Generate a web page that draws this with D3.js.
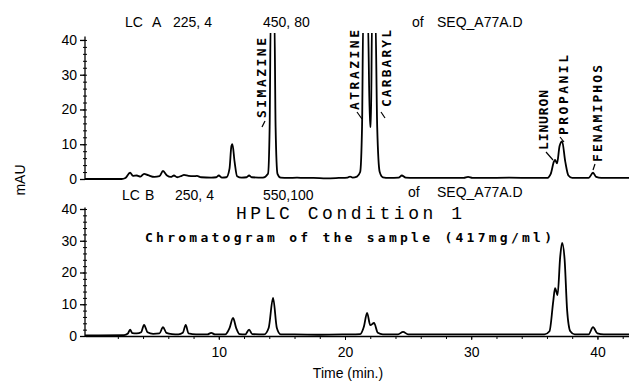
<!DOCTYPE html>
<html>
<head>
<meta charset="utf-8">
<script src="https://cdn.jsdelivr.net/npm/d3@7"></script>
<style>
  body { margin: 0; background: #fff; }
  svg { display: block; font-family: "Liberation Sans", Arial, sans-serif; }
</style>
</head>
<body>
<div id="caja"></div>
<script>
// signal LC A (225,4) : [time min, mAU]
var traceA = [
  [-0.6,0],[2.3,0],[2.6,0.3],[2.97,1.8],[3.2,0.9],[3.5,1.0],[3.8,0.7],[4.08,1.5],[4.4,1.1],[4.9,0.6],
  [5.3,0.8],[5.58,2.3],[5.9,1.0],[6.2,0.6],[6.45,1.0],[6.7,0.5],[7.05,0.9],[7.24,1.2],[7.6,0.9],[8.0,0.8],
  [8.27,0.9],[8.6,0.5],[9.4,0.4],[9.8,0.5],[10.0,1.0],[10.25,0.4],[10.6,0.5],[10.85,3],[11.0,9.5],[11.08,10],
  [11.25,5],[11.45,0.8],[11.8,0.4],[12.2,0.5],[12.4,1.0],[12.6,0.5],[13.5,0.4],[13.9,1.5],[14.03,15],[14.12,48],
  [14.4,48],[14.5,15],[14.65,1.5],[14.9,0.4],[15.5,0.3],[16.2,0.4],[16.8,0.3],[17.5,0.3],[18.5,0.2],[19.5,0.3],
  [20.2,0.4],[20.4,0.7],[20.6,0.4],[20.95,0.7],[21.2,2],[21.35,15],[21.45,48],[21.8,48],[21.98,15],[22.05,15],
  [22.15,48],[22.4,48],[22.55,15],[22.75,2],[23.0,0.5],[23.5,0.3],[24.25,0.4],[24.5,1.0],[24.8,0.4],[25.5,0.3],
  [27,0.3],[29.4,0.3],[29.75,0.6],[30.1,0.3],[31,0.3],[33,0.4],[35,0.3],[36.0,0.3],[36.3,1.5],[36.55,5],
  [36.64,5.5],[36.8,4.5],[37.0,9.5],[37.2,10.8],[37.45,5],[37.7,1],[38,0.3],[39.3,0.3],[39.65,1.8],[39.9,0.6],
  [40.3,0.3],[42.6,0.3]
];

// signal LC B (250,4)
var traceB = [
  [-0.6,0.2],[2.5,0.3],[2.8,0.8],[2.97,2.0],[3.15,0.9],[3.5,0.8],[3.85,1.2],[4.08,3.5],[4.35,1.2],[4.8,0.7],
  [5.3,0.8],[5.58,2.8],[5.85,1.0],[6.3,0.6],[6.8,0.5],[7.15,1.0],[7.38,3.5],[7.6,0.8],[8.2,0.5],[9.1,0.5],
  [9.4,1.0],[9.7,0.5],[10.5,0.5],[10.85,2.5],[11.13,5.7],[11.38,2.5],[11.65,0.6],[12.1,0.5],[12.4,2.0],[12.65,0.6],
  [13.6,0.5],[13.95,2.5],[14.3,12],[14.6,2.5],[14.9,0.5],[16,0.5],[18,0.4],[20,0.5],[21.2,0.6],[21.5,3],
  [21.75,7.3],[22.0,3.4],[22.3,4.1],[22.6,1.0],[23.0,0.5],[24.2,0.5],[24.6,1.3],[25.0,0.5],[28,0.5],[32,0.5],
  [35.8,0.5],[36.2,1.5],[36.5,11],[36.64,15.1],[36.84,12.9],[37.05,25],[37.2,29.3],[37.4,24],[37.6,8],[37.85,1.5],
  [38.2,0.5],[39.3,0.5],[39.65,2.8],[40.0,0.8],[40.5,0.5],[42.6,0.5]
];

// picos identificados en LC A
var compuestos = ["SIMAZINE", "ATRAZINE", "CARBARYL", "LINURON", "PROPANIL", "FENAMIPHOS"];
var tiempos = [14.26, 21.67, 22.25, 36.64, 37.2, 39.65];

var yTicks = [0, 10, 20, 30, 40];
var xTicks = [10, 20, 30, 40];

var w = 629, h = 381;

var svg = d3.select('#caja')
  .append('svg')
  .attr('width', w)
  .attr('height', h)
  .style('background', '#fff');

var x = d3.scaleLinear().domain([-0.6, 42.5]).range([85, 629]);
var yA = d3.scaleLinear().domain([0, 42]).range([179, 33]);
var yB = d3.scaleLinear().domain([0, 40]).range([336, 209]);

svg.append('clipPath').attr('id', 'clipA')
  .append('rect').attr('x', 85).attr('y', 33).attr('width', 544).attr('height', 150);

// ejes y
function ejeY(y, top) {
  var g = svg.append('g').attr('transform', 'translate(85,0)');
  g.append('line').attr('x1', 0).attr('x2', 0)
    .attr('y1', y(0)).attr('y2', y(top))
    .attr('stroke', '#000').attr('stroke-width', 1.3);
  var mayor = g.append('g').call(d3.axisLeft(y).tickValues(yTicks).tickSize(5).tickPadding(3));
  mayor.select('.domain').remove();
  mayor.selectAll('line').attr('stroke-width', 1.3);
  mayor.selectAll('text').attr('font-size', 14).attr('font-family', '"Liberation Sans", Arial, sans-serif');
  var menor = g.append('g').call(d3.axisLeft(y).tickValues(d3.range(0, 41, 2)).tickSize(2).tickFormat(''));
  menor.select('.domain').remove();
  var menor2 = g.append('g').call(d3.axisRight(y).tickValues(d3.range(0, 41, 2)).tickSize(2).tickFormat(''));
  menor2.select('.domain').remove();
}
ejeY(yA, 41);
ejeY(yB, 40.5);

// eje x (abajo)
var gx = svg.append('g').attr('transform', 'translate(0,' + yB(0) + ')');
gx.call(d3.axisBottom(x).tickValues(xTicks).tickSize(4).tickSizeOuter(0).tickPadding(7));
gx.select('.domain').attr('stroke-width', 1.3);
gx.selectAll('text').attr('font-size', 14).attr('font-family', '"Liberation Sans", Arial, sans-serif');
var gx2 = svg.append('g').attr('transform', 'translate(0,' + yB(0) + ')')
  .call(d3.axisBottom(x).tickValues(d3.range(2, 43, 2)).tickSize(3).tickSizeOuter(0).tickFormat(''));
gx2.select('.domain').remove();

// lineas de señal
var lineaA = d3.line().x(function(d) { return x(d[0]); }).y(function(d) { return yA(d[1]); })
  .curve(d3.curveMonotoneX);
var lineaB = d3.line().x(function(d) { return x(d[0]); }).y(function(d) { return yB(d[1]); })
  .curve(d3.curveMonotoneX);

svg.append('path').datum(traceA)
  .attr('d', lineaA)
  .attr('clip-path', 'url(#clipA)')
  .attr('fill', 'none').attr('stroke', '#000').attr('stroke-width', 1.8);

svg.append('path').datum(traceB)
  .attr('d', lineaB)
  .attr('fill', 'none').attr('stroke', '#000').attr('stroke-width', 1.8);

// etiquetas de compuestos (texto vertical)
var etiq = [
  {dx: -12, bot: 118, len: 80, lead: [[262,127],[265,121]]},
  {dx: -12, bot: 110, len: 80, lead: [[362,119],[357,112]]},
  {dx: 13, bot: 107, len: 77, lead: [[381,112],[385,118]]},
  {dx: -12, bot: 150, len: 60, lead: [[546,152],[553,160]]},
  {dx: 1, bot: 135, len: 80, lead: [[560,137],[564,142]]},
  {dx: 4, bot: 162, len: 97, lead: [[595,164],[593,170]]}
];
compuestos.forEach(function(c, i) {
  var e = etiq[i];
  var cx = x(tiempos[i]) + e.dx;
  svg.append('text')
    .text(c)
    .attr('transform', 'translate(' + (cx + 5) + ',' + e.bot + ') rotate(-90)')
    .attr('textLength', e.len)
    .attr('lengthAdjust', 'spacing')
    .attr('font-family', '"DejaVu Sans Mono", monospace')
    .attr('font-weight', 'bold')
    .attr('font-size', 13)
    .attr('fill', '#000');
  svg.append('line')
    .attr('x1', e.lead[0][0]).attr('y1', e.lead[0][1])
    .attr('x2', e.lead[1][0]).attr('y2', e.lead[1][1])
    .attr('stroke', '#000').attr('stroke-width', 1.2);
});

// encabezados
function texto(t, px, py, size) {
  return svg.append('text').text(t).attr('x', px).attr('y', py)
    .attr('font-size', size || 14).attr('fill', '#000');
}
texto('LC', 125, 27); texto('A', 152, 27); texto('225, 4', 173, 27);
texto('450, 80', 263, 27);
texto('of', 412, 27); texto('SEQ_A77A.D', 437, 27);

texto('LC', 122, 200); texto('B', 145, 200); texto('250, 4', 175, 200);
texto('550,100', 263, 200);
texto('of', 408, 197); texto('SEQ_A77A.D', 437, 197);

svg.append('text').text('HPLC Condition 1')
  .attr('x', 236).attr('y', 219)
  .attr('textLength', 226).attr('lengthAdjust', 'spacing')
  .attr('font-family', '"Liberation Mono", monospace')
  .attr('font-size', 18).attr('fill', '#000');

svg.append('text').text('Chromatogram of the sample (417mg/ml)')
  .attr('x', 145).attr('y', 242)
  .attr('textLength', 407).attr('lengthAdjust', 'spacing')
  .attr('font-family', '"DejaVu Sans Mono", monospace')
  .attr('font-weight', 'bold')
  .attr('font-size', 13).attr('fill', '#000');

// titulos de ejes
svg.append('text').text('Time (min.)')
  .attr('x', 348).attr('y', 378)
  .attr('text-anchor', 'middle')
  .attr('font-size', 14).attr('fill', '#000');

svg.append('text').text('mAU')
  .attr('transform', 'translate(25,180) rotate(-90)')
  .attr('text-anchor', 'middle')
  .attr('font-size', 14).attr('fill', '#000');
</script>
</body>
</html>
